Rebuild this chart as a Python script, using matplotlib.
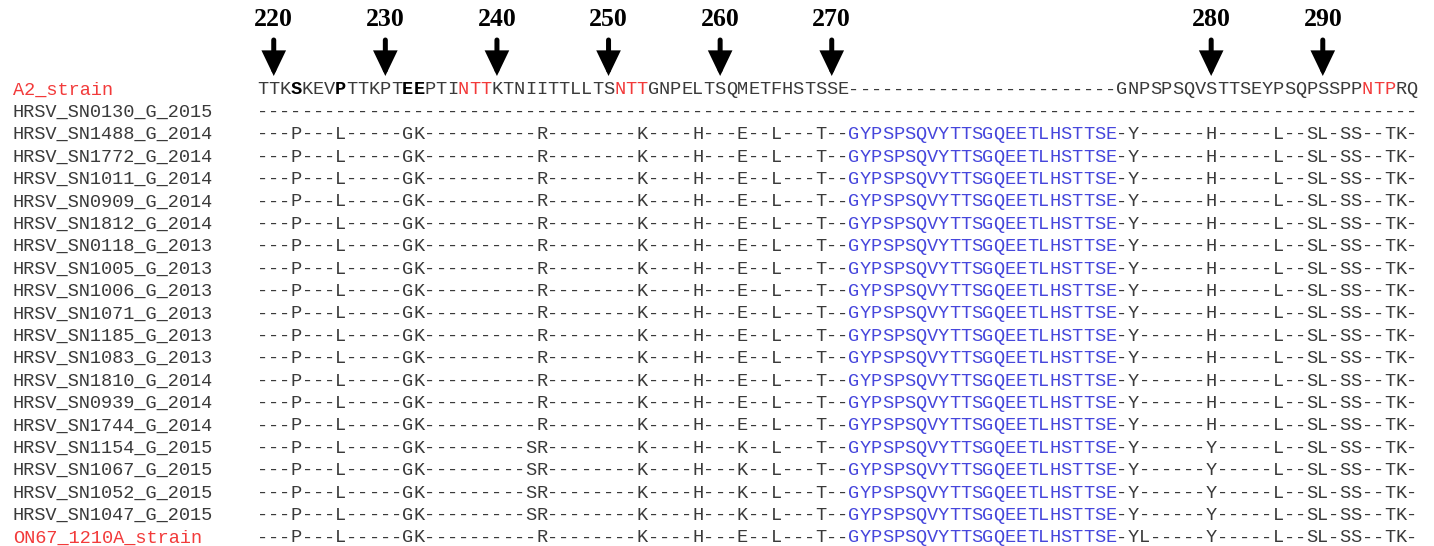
import matplotlib

matplotlib.use("Agg")
import matplotlib.pyplot as plt

# ---- alignment data ----
NAMES = ["A2_strain", "HRSV_SN0130_G_2015", "HRSV_SN1488_G_2014", "HRSV_SN1772_G_2014",
         "HRSV_SN1011_G_2014", "HRSV_SN0909_G_2014", "HRSV_SN1812_G_2014", "HRSV_SN0118_G_2013",
         "HRSV_SN1005_G_2013", "HRSV_SN1006_G_2013", "HRSV_SN1071_G_2013", "HRSV_SN1185_G_2013",
         "HRSV_SN1083_G_2013", "HRSV_SN1810_G_2014", "HRSV_SN0939_G_2014", "HRSV_SN1744_G_2014",
         "HRSV_SN1154_G_2015", "HRSV_SN1067_G_2015", "HRSV_SN1052_G_2015", "HRSV_SN1047_G_2015",
         "ON67_1210A_strain"]
RED_NAMES = ["A2_strain", "ON67_1210A_strain"]

A2_PRE = "TTKSKEVPTTKPTEEPTINTTKTNIITTLLTSNTTGNPELTSQMETFHSTSSE"
A2_POST = "GNPSPSQVSTTSEYPSQPSSPPNTPRQ"
DUP = "GYPSPSQVYTTSGQEETLHSTTSE"          # 24 aa duplication (blue)

PRE_A = "---P---L-----GK----------R--------K----H---E--L---T--"
PRE_B = "---P---L-----GK---------SR--------K----H---K--L---T--"
POST_A = "-Y------H-----L--SL-SS--TK-"
POST_B = "-Y------Y-----L--SL-SS--TK-"
POST_ON67 = "-YL-----Y-----L--SL-SS--TK-"

GAP_PRE = "-" * len(A2_PRE)
GAP_DUP = "-" * len(DUP)
GAP_POST = "-" * len(A2_POST)

ROWS = ([(A2_PRE, GAP_DUP, A2_POST), (GAP_PRE, GAP_DUP, GAP_POST)]
        + [(PRE_A, DUP, POST_A)] * 14
        + [(PRE_B, DUP, POST_B)] * 4
        + [(PRE_A, DUP, POST_ON67)])

A2_BOLD_COLS = [3, 7, 13, 14]
A2_RED_COLS = [18, 19, 20, 32, 33, 34, 99, 100, 101]   # N-glycosylation motifs

A2_FIRST_RES = 219
POS_LABELS = [220, 230, 240, 250, 260, 270, 280, 290]

# ---- layout (pixels of the 1434x546 canvas) ----
W, H = 1434, 546
CW, X0 = 11.16, 257.0      # column width, left edge of column 0
RH, Y0 = 22.4, 88.0        # row height, centre of row 0


def col(px):
    return (px - X0) / CW - 0.5


def row(py):
    return (py - Y0) / RH


GRAY, RED, BLUE = "#3a3a3a", "#f23a3a", "#4646dc"
MONO = "Liberation Mono"
FS = 13.4

fig = plt.figure(figsize=(W / 100, H / 100), dpi=100)
ax = fig.add_axes([0, 0, 1, 1])
ax.set_xlim(col(0), col(W))
ax.set_ylim(row(H), row(0))
ax.axis("off")

base = row(94.5) - row(88)   # baseline offset below row centre

for r, (name, parts) in enumerate(zip(NAMES, ROWS)):
    ax.text(col(13), r + base, name, family=MONO, fontsize=FS, va="baseline", ha="left",
            color=RED if name in RED_NAMES else GRAY)
    c = 0
    for k, part in enumerate(parts):
        for ch in part:
            color, weight = GRAY, "normal"
            if k == 1 and ch != "-":
                color = BLUE
            if r == 0 and c in A2_RED_COLS:
                color = RED
            if r == 0 and c in A2_BOLD_COLS:
                color, weight = "black", "bold"
            ax.text(c, r + base, ch, family=MONO, fontsize=FS, va="baseline", ha="center",
                    color=color, fontweight=weight)
            c += 1

# residue numbering arrows, mapped through the ungapped A2 sequence
a2_full = "".join(ROWS[0])
res_cols = [i for i, ch in enumerate(a2_full) if ch != "-"]
for res in POS_LABELS:
    x = res_cols[res - A2_FIRST_RES]
    ax.text(x, row(19), str(res), family="Liberation Serif", fontweight="bold", fontsize=18.5,
            ha="center", va="center", color="black")
    ax.annotate("", xy=(x, row(76)), xytext=(x, row(40)),
                arrowprops=dict(arrowstyle="-|>,head_length=1.25,head_width=0.6",
                                mutation_scale=10, lw=3.6, color="black",
                                shrinkA=0, shrinkB=0, joinstyle="miter"))

fig.savefig("out.png", dpi=100)
